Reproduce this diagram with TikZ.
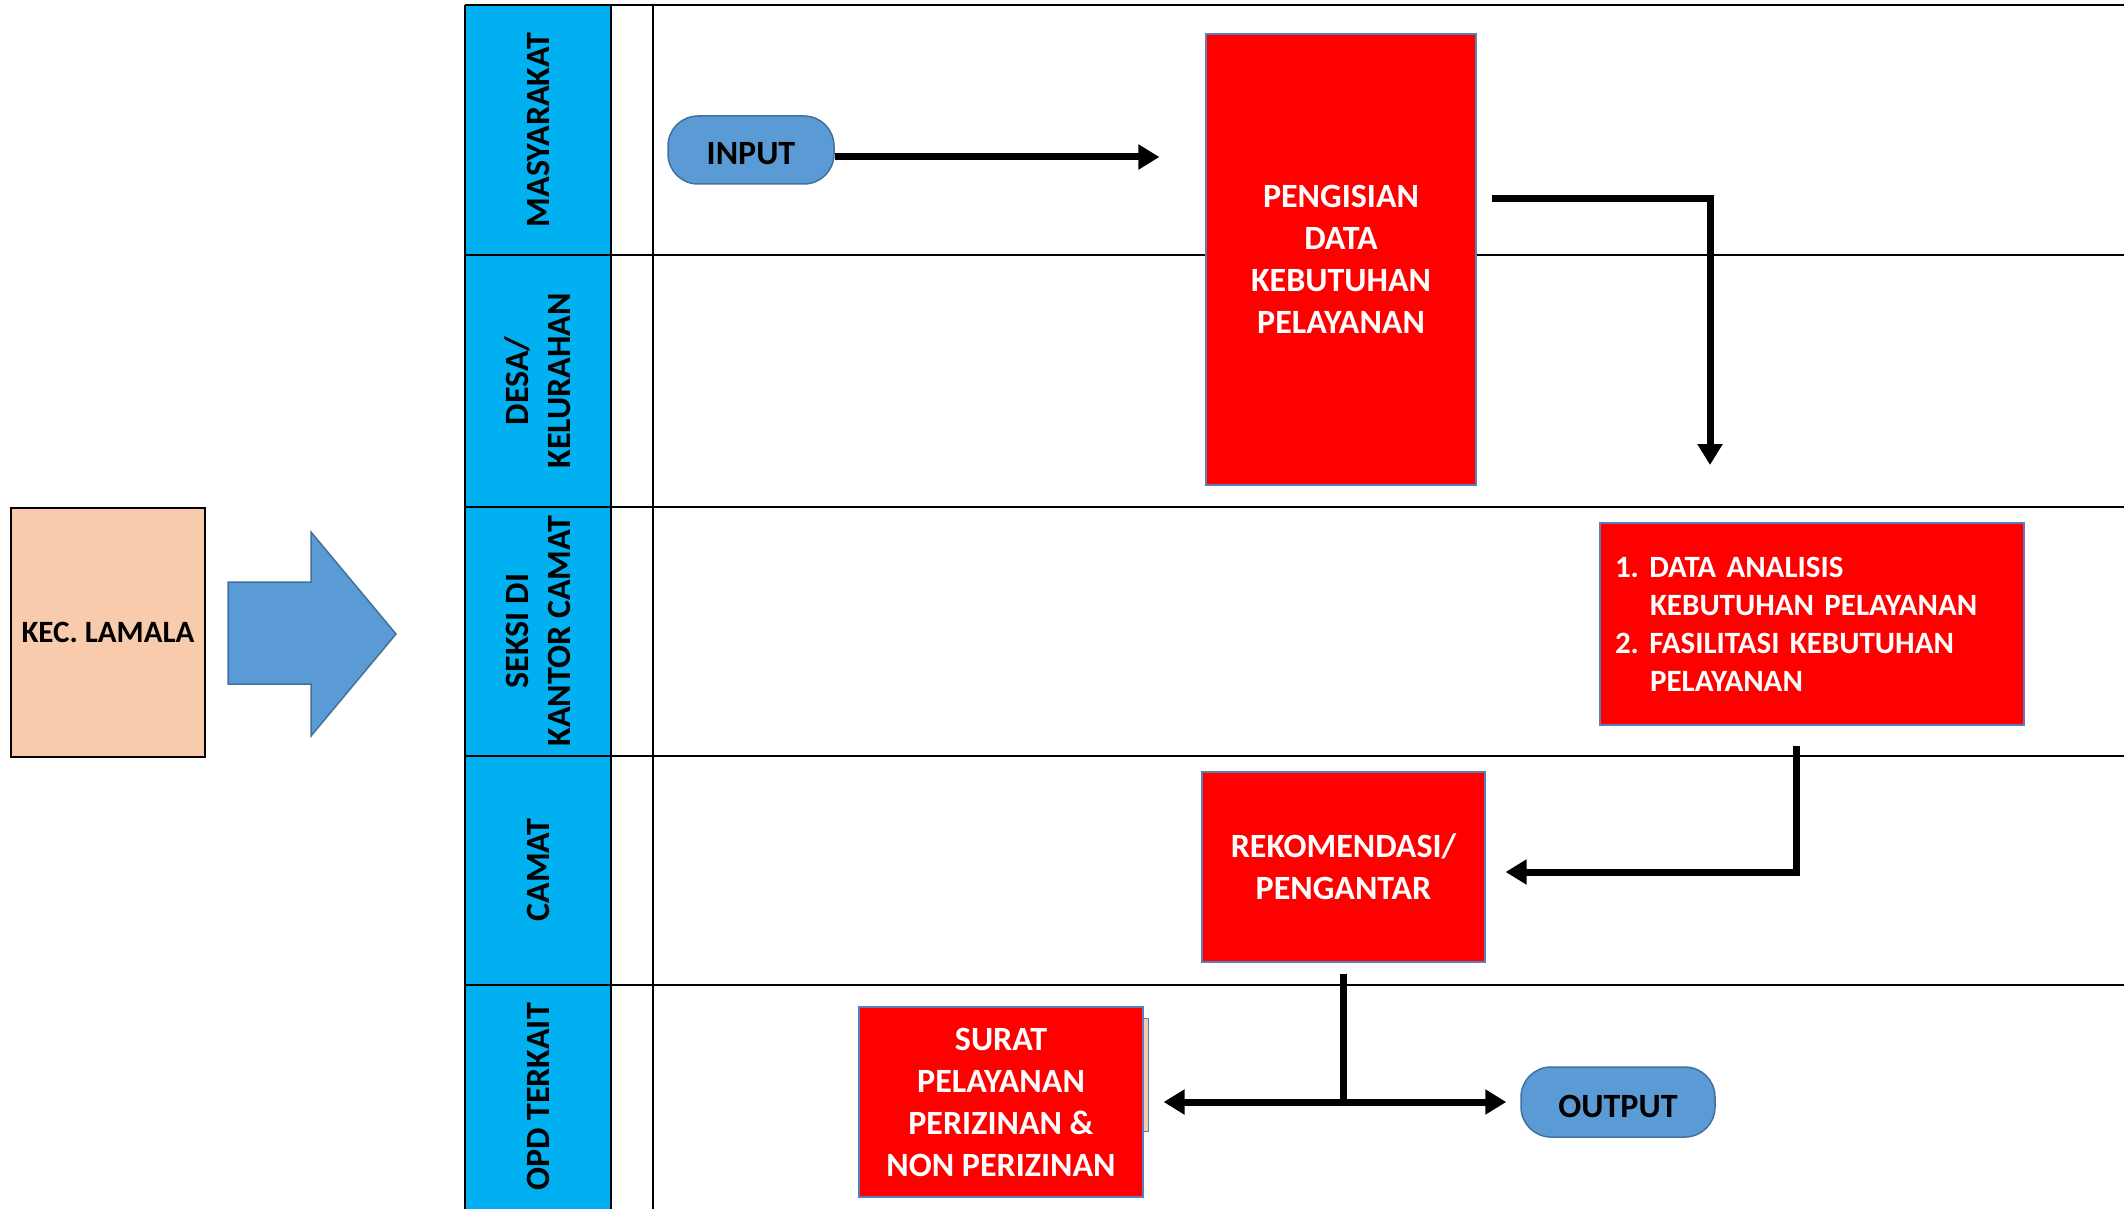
\documentclass[tikz,border=0pt]{standalone}
\usepackage{fontspec}
\setmainfont{Carlito}
\usepackage{tikz}
\usepackage{xcolor}
\usetikzlibrary{arrows.meta}

\definecolor{lanecol}{HTML}{00B0F0}
\definecolor{termcol}{HTML}{5B9BD5}
\definecolor{termline}{HTML}{41719C}
\definecolor{kecfill}{HTML}{F8CBAD}
\definecolor{boxline}{HTML}{5B7DB8}

\begin{document}
\begin{tikzpicture}[x=1pt,y=-1pt,
    big/.style={font=\fontsize{34}{42}\selectfont\bfseries},
    lanelabel/.style={big,rotate=90,align=center,inner sep=0pt},
    redbox/.style={draw=boxline,line width=1.2pt,fill=red,text=white,big,align=center,inner sep=0pt},
    term/.style={draw=termline,line width=1.5pt,fill=termcol,rounded corners=30pt,big,inner sep=0pt,
      text height=30pt,text depth=0pt},
    rule/.style={line width=2.5pt},
    flow/.style={line width=7pt,line join=miter,-{Triangle[length=21pt,width=24pt]}}]
  \useasboundingbox (0,0) rectangle (2124,1209);

  \fill[lanecol] (465,5) rectangle (611,1209);
  \foreach \y in {5,255,507,756,985}
    \draw[rule] (465,\y) -- (2124,\y);
  \foreach \x in {465,611,653}
    \draw[rule] (\x,5) -- (\x,1209);
  \node (lmas) [lanelabel] at (538,130) {MASYARAKAT};
  \node (ldesa) [lanelabel] at (538,381) {DESA/\\KELURAHAN};
  \node (lseksi) [lanelabel] at (538,631) {SEKSI DI\\KANTOR CAMAT};
  \node (lcamat) [lanelabel] at (538,870) {CAMAT};
  \node (lopd) [lanelabel] at (538,1097) {OPD TERKAIT};

  \node (kec) [draw,line width=2.5pt,fill=kecfill,minimum width=194pt,minimum height=249pt,
    inner sep=0pt,font=\fontsize{31}{38}\selectfont\bfseries] at (108,632.5) {KEC. LAMALA};
  \filldraw[fill=termcol,draw=termline,line width=1.5pt]
    (228,582) -- (311,582) -- (311,532) -- (396,634) -- (311,736) -- (311,684) -- (228,684) -- cycle;

  \node (input) [term,minimum width=166pt,minimum height=68pt] at (751,150) {INPUT};
  \node (pengisian) [redbox,minimum width=270pt,minimum height=451pt] at (1341,259.5)
    {PENGISIAN\\DATA\\KEBUTUHAN\\PELAYANAN};
  \node (data) [redbox,minimum width=424pt,minimum height=202pt,text width=394pt,inner xsep=15pt,
    align=left,font=\fontsize{31}{38}\selectfont\bfseries] at (1812,624)
    {1.~DATA ANALISIS\\\hspace*{35pt}KEBUTUHAN PELAYANAN\\2.~FASILITASI KEBUTUHAN\\\hspace*{35pt}PELAYANAN};
  \node (rekom) [redbox,minimum width=283pt,minimum height=190pt] at (1343.5,867)
    {REKOMENDASI/\\PENGANTAR};
  \filldraw[fill=kecfill,draw=boxline,line width=1pt] (1120,1018) rectangle (1148,1131);
  \node (surat) [redbox,minimum width=284pt,minimum height=190pt] at (1001,1102)
    {SURAT\\PELAYANAN\\PERIZINAN \&\\NON PERIZINAN};
  \node (output) [term,minimum width=194pt,minimum height=70pt] at (1618,1102) {OUTPUT};

  \draw[flow,shorten >=46pt] ([yshift=-7pt]input.east) -- ([yshift=-7pt]input.east -| pengisian.west);
  \coordinate (pin) at (1710,465);
  \draw[flow] ([xshift=15pt,yshift=61pt]pengisian.east) -| (pin);
  \draw[flow,shorten >=20pt] ([xshift=-16pt,yshift=-20pt]data.south) |- ([yshift=-5pt]rekom.east);
  \path (rekom.south |- surat.east) coordinate (split);
  \draw[flow,shorten >=20pt] ([yshift=-11pt]rekom.south) |- (surat.east);
  \draw[flow,shorten >=14pt,shorten <=-3.5pt] (split) -- (output.west);
\end{tikzpicture}
\end{document}
